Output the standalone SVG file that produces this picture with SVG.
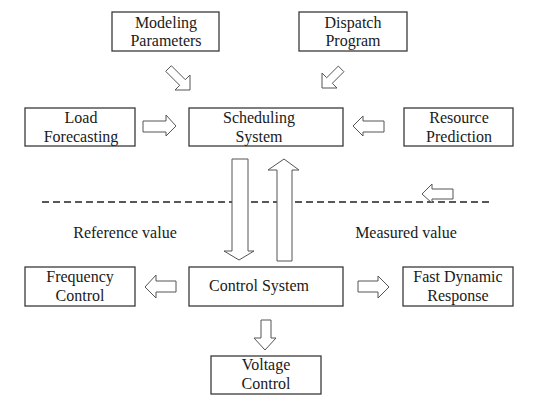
<svg xmlns="http://www.w3.org/2000/svg" width="560" height="404" viewBox="0 0 560 404" font-family="Liberation Serif, Times New Roman, serif">
<style>
.box{fill:#fff;stroke:#3a3a3a;stroke-width:1.3}
.t{font-size:16px;fill:#1a1a1a;text-anchor:middle}
.arr{fill:#fff;stroke:#555;stroke-width:1;stroke-linejoin:miter}
.dash{stroke:#222;stroke-width:1.3;stroke-dasharray:7 4;fill:none}
</style>
<rect width="560" height="404" fill="#fff"/>
<g id="connectors">
<line class="dash" x1="42" y1="202" x2="492" y2="202"/>
<polygon class="arr" points="190,90 175,90 179.7,85.3 165.7,71.3 171.3,65.7 185.3,79.7 190,75"/>
<polygon class="arr" points="322,88 337,88 332.3,83.3 343.9,71.7 338.3,66.1 326.7,77.7 322,73"/>
<polygon class="arr" points="143,121 166,121 166,115 176,126 166,136 166,132 143,132"/>
<polygon class="arr" points="384,121 363,121 363,116 353,126 363,136 363,132 384,132"/>
<polygon class="arr" points="453,189 432,189 432,184 422,194 432,203 432,199 453,199"/>
<polygon class="arr" points="232,159 248,159 248,251 254,251 239,260 224,251 232,251"/>
<polygon class="arr" points="277,261 292,261 292,170 299,170 284,159 268,170 277,170"/>
<polygon class="arr" points="176,281 156,281 156,275 145,287 156,298 156,292 176,292"/>
<polygon class="arr" points="358,281 378,281 378,276 389,287 378,298 378,292 358,292"/>
<polygon class="arr" points="261,320 271,320 271,338 276,338 265,350 254,338 261,338"/>
</g>
<g id="modeling"><rect class="box" x="112" y="12" width="107" height="39"/><text class="t" x="166" y="28">Modeling</text><text class="t" x="166" y="46">Parameters</text></g>
<g id="dispatch"><rect class="box" x="299" y="12" width="108" height="39"/><text class="t" x="353" y="28">Dispatch</text><text class="t" x="353" y="46">Program</text></g>
<g id="load"><rect class="box" x="25" y="108" width="110" height="38"/><text class="t" x="81" y="123">Load</text><text class="t" x="81" y="142">Forecasting</text></g>
<g id="scheduling"><rect class="box" x="189" y="108" width="154" height="38"/><text class="t" x="259" y="123">Scheduling</text><text class="t" x="259" y="142">System</text></g>
<g id="resource"><rect class="box" x="404" y="108" width="109" height="38"/><text class="t" x="459" y="123">Resource</text><text class="t" x="459" y="142">Prediction</text></g>
<g id="refval"><text class="t" x="125" y="238">Reference value</text></g>
<g id="measval"><text class="t" x="406" y="238">Measured value</text></g>
<g id="frequency"><rect class="box" x="25" y="267" width="110" height="39"/><text class="t" x="80" y="282">Frequency</text><text class="t" x="80" y="301">Control</text></g>
<g id="control"><rect class="box" x="189" y="267" width="154" height="39"/><text class="t" x="259" y="291">Control System</text></g>
<g id="fast"><rect class="box" x="403" y="267" width="110" height="39"/><text class="t" x="458" y="282">Fast Dynamic</text><text class="t" x="458" y="301">Response</text></g>
<g id="voltage"><rect class="box" x="211" y="356" width="110" height="38"/><text class="t" x="266" y="370">Voltage</text><text class="t" x="266" y="389">Control</text></g>
</svg>
